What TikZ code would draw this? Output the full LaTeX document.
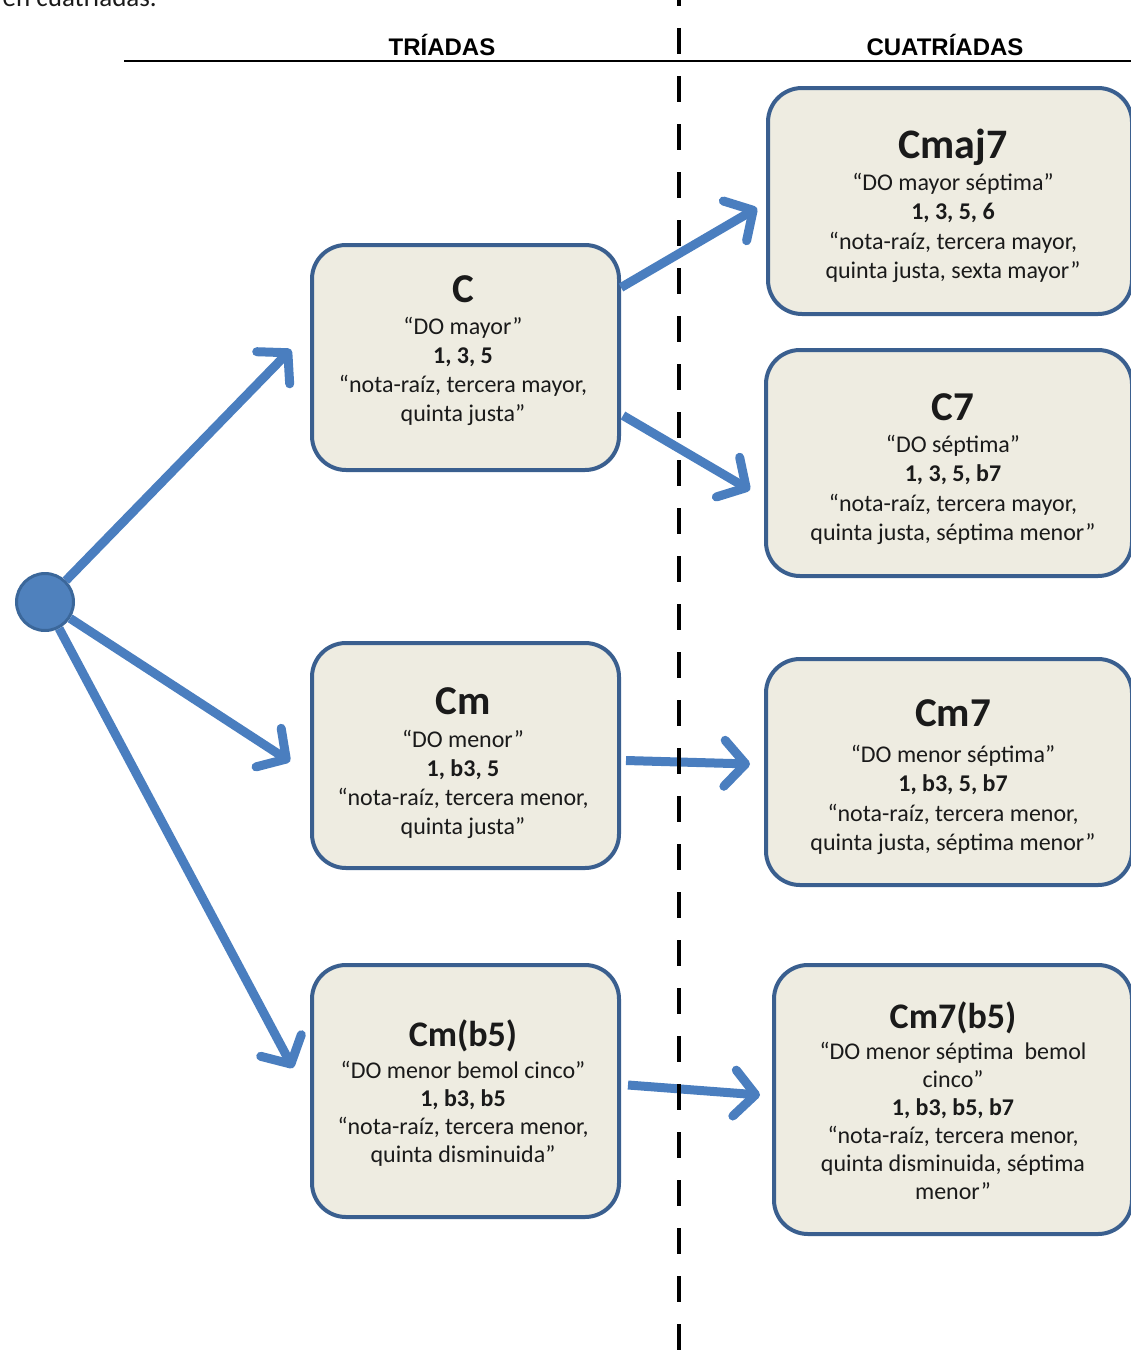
\documentclass[tikz,border=0pt]{standalone}
\usepackage{fontspec}
\setmainfont{Carlito}
\newfontfamily\hdrfont{Liberation Sans}
\usetikzlibrary{arrows.meta,calc}
\definecolor{boxfill}{HTML}{EEECE1}
\definecolor{boxline}{HTML}{3A5F8F}
\definecolor{arrblue}{HTML}{4A7EBF}
\definecolor{circfill}{HTML}{4F81BD}
\definecolor{circline}{HTML}{3B679A}
\definecolor{txt}{HTML}{1A1A1A}
\begin{document}
\begin{tikzpicture}[x=1pt,y=-1pt,
  chord/.style={draw=boxline, fill=boxfill, line width=4pt, rounded corners=34pt, inner sep=0pt},
  ttl/.style={anchor=base, inner sep=0pt, text=txt, font=\fontsize{#1}{#1}\selectfont\bfseries},
  body/.style={anchor=north, inner sep=0pt, align=center, text=txt, font=\fontsize{24}{#1}\selectfont},
  hdr/.style={anchor=base, inner sep=0pt, font=\hdrfont\fontsize{24}{26}\selectfont\bfseries},
  arr/.style={draw=arrblue, line width=9pt, -{Straight Barb[length=21pt,width=46pt,round]}},
  sep/.style={draw=black, line width=4.5pt, dash pattern=on 26pt off 22pt}
]
\useasboundingbox (0,0) rectangle (1131,1354);

% cut-off line of text at top
\node[anchor=base east, inner sep=0pt, text=txt, font=\fontsize{27}{30}\selectfont] (intro) at (157,7) {en cuatríadas.};

% headers
\node[hdr] (hT) at (442,56) {TRÍADAS};
\node[hdr] (hQ) at (945,56) {CUATRÍADAS};
\coordinate (hl1) at (124,61);
\coordinate (hl2) at (1131,61);
\draw[line width=2pt] (hl1) -- (hl2);

% boxes
\node[chord, minimum width=307pt, minimum height=225pt] (bC) at (465.5,357.5) {};
\node[chord, minimum width=307pt, minimum height=225pt] (bCm) at (465.5,755.5) {};
\node[chord, minimum width=307pt, minimum height=252pt] (bCmb) at (465.5,1091) {};
\node[chord, minimum width=364pt, minimum height=226pt] (bCmaj) at (950,201) {};
\node[chord, minimum width=366pt, minimum height=226pt] (bCs) at (949,463) {};
\node[chord, minimum width=366pt, minimum height=226pt] (bCms) at (949,772) {};
\node[chord, minimum width=358pt, minimum height=269pt] (bCmsb) at (953,1099.5) {};

% texts
\node[ttl=41] (tC) at (463,302) {C};
\node[body=29] (dC) at (463,313.7) {\strut “DO mayor”\\ \strut\textbf{1, 3, 5}\\ \strut “nota-raíz, tercera mayor,\\ \strut quinta justa”};

\node[ttl=41] (tCm) at (463,714) {Cm};
\node[body=29] (dCm) at (463,726.7) {\strut “DO menor”\\ \strut\textbf{1, b3, 5}\\ \strut “nota-raíz, tercera menor,\\ \strut quinta justa”};

\node[ttl=36] (tCmb) at (463,1046) {Cm(b5)};
\node[body=28] (dCmb) at (463,1058.4) {\strut “DO menor bemol cinco”\\ \strut\textbf{1, b3, b5}\\ \strut “nota-raíz, tercera menor,\\ \strut quinta disminuida”};

\node[ttl=42] (tCmaj) at (953,158) {Cmaj7};
\node[body=29.5] (dCmaj) at (953,169.35) {\strut “DO mayor séptima”\\ \strut\textbf{1, 3, 5, 6}\\ \strut “nota-raíz, tercera mayor,\\ \strut quinta justa, sexta mayor”};

\node[ttl=41] (tCs) at (953,420) {C7};
\node[body=29.5] (dCs) at (953,431.35) {\strut “DO séptima”\\ \strut\textbf{1, 3, 5, b7}\\ \strut “nota-raíz, tercera mayor,\\ \strut quinta justa, séptima menor”};

\node[ttl=41] (tCms) at (953,726) {Cm7};
\node[body=29.5] (dCms) at (953,741.35) {\strut “DO menor séptima”\\ \strut\textbf{1, b3, 5, b7}\\ \strut “nota-raíz, tercera menor,\\ \strut quinta justa, séptima menor”};

\node[ttl=36] (tCmsb) at (953,1028) {Cm7(b5)};
\node[body=28] (dCmsb) at (953,1039.4) {\strut “DO menor séptima \ bemol\\ \strut cinco”\\ \strut\textbf{1, b3, b5, b7}\\ \strut “nota-raíz, tercera menor,\\ \strut quinta disminuida, séptima\\ \strut menor”};

% root circle
\node[circle, fill=circfill, draw=circline, line width=3pt, minimum size=57pt, inner sep=0pt] (circ) at (45,602) {};

% connectors
\draw[arr] (circ) -- ($(bC.west)+(-19,-8)$);
\draw[arr] (circ) -- ($(bCm.west)+(-20,6)$);
\draw[arr] (circ) -- ($(bCmb.west)+(-17,-23)$);
\draw[arr] ($(bC.east)+(0,-70)$) -- ($(bCmaj.west)+(-9,7)$);
\draw[arr] ($(bC.east)+(2,58)$) -- ($(bCs.west)+(-14,27)$);
\draw[arr] ($(bCm.east)+(5,5)$) -- ($(bCms.west)+(-14,-8)$);
\draw[arr] ($(bCmb.east)+(7,-6)$) -- ($(bCmsb.west)+(-12,-4.5)$);

% dashed separator
\coordinate (d1) at (679,-20);
\coordinate (d2) at (679,1354);
\draw[sep] (d1) -- (d2);
\end{tikzpicture}
\end{document}
